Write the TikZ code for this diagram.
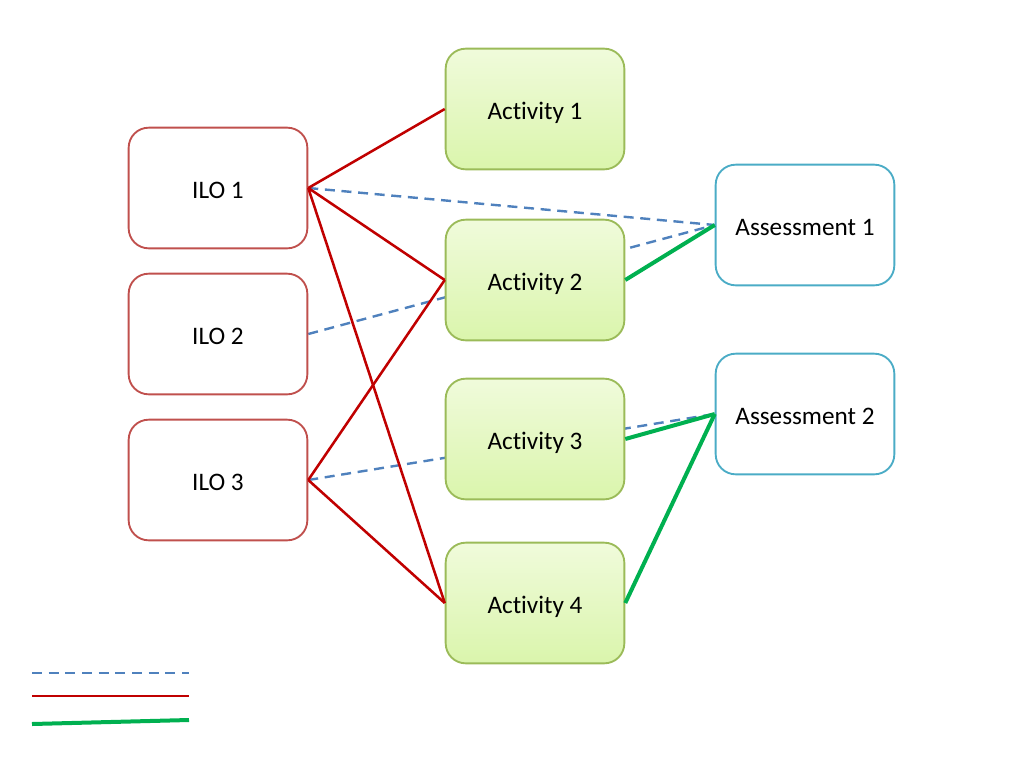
\documentclass[tikz,border=0pt]{standalone}
\usepackage{fontspec}
\setmainfont{Carlito}[RawFeature=-liga]
\usetikzlibrary{backgrounds}
\definecolor{ilored}{RGB}{192,80,77}
\definecolor{actgreen}{RGB}{155,187,89}
\definecolor{acttop}{RGB}{240,251,219}
\definecolor{actbottom}{RGB}{218,245,172}
\definecolor{asscyan}{RGB}{75,172,198}
\definecolor{linkred}{RGB}{192,0,0}
\definecolor{linkblue}{RGB}{79,129,189}
\definecolor{linkgreen}{RGB}{0,176,80}
\begin{document}
\begin{tikzpicture}[x=0.75pt, y=-0.75pt,
    box/.style={rounded corners=15pt, line width=1.4pt, minimum width=134pt, minimum height=90.5pt,
                inner sep=0pt, align=center, text height=15.5pt, text depth=0.5pt,
                font=\fontsize{18.9}{22}\selectfont},
    ilobox/.style={box, draw=ilored, fill=white},
    actbox/.style={box, draw=actgreen, top color=acttop, bottom color=actbottom},
    assbox/.style={box, draw=asscyan, fill=white},
    covers/.style={draw=linkred, line width=1.9pt},
    assesses/.style={draw=linkblue, line width=1.8pt, dash pattern=on 7.5pt off 5pt},
    aligns/.style={draw=linkgreen, line width=3pt}]
  \useasboundingbox (0,0) rectangle (1024,768);

  \node[ilobox] (ilo1) at (218,188) {ILO 1};
  \node[ilobox] (ilo2) at (218,334) {ILO 2};
  \node[ilobox] (ilo3) at (218,480) {ILO 3};

  \node[actbox] (act1) at (535,109) {Activity 1};
  \node[actbox] (act2) at (535,280) {Activity 2};
  \node[actbox] (act3) at (535,439) {Activity 3};
  \node[actbox] (act4) at (535,603) {Activity 4};

  \node[assbox] (ass1) at (805,225) {Assessment 1};
  \node[assbox] (ass2) at (805,414) {Assessment 2};

  \begin{pgfonlayer}{background}
    \draw[assesses] (ilo1.east) -- (ass1.west);
    \draw[assesses] (ilo2.east) -- (ass1.west);
    \draw[assesses] (ilo3.east) -- (ass2.west);
  \end{pgfonlayer}

  \draw[covers] (ilo1.east) -- (act1.west);
  \draw[covers] (ilo1.east) -- (act2.west);
  \draw[covers] (ilo1.east) -- (act4.west);
  \draw[covers] (ilo3.east) -- (act2.west);
  \draw[covers] (ilo3.east) -- (act4.west);

  \draw[aligns] (act2.east) -- (ass1.west);
  \draw[aligns] (act3.east) -- (ass2.west);
  \draw[aligns] (act4.east) -- (ass2.west);

  \coordinate (key1a) at (32,673);  \coordinate (key1b) at (189,673);
  \coordinate (key2a) at (32,696);  \coordinate (key2b) at (189,696);
  \coordinate (key3a) at (32,724);  \coordinate (key3b) at (189,720);
  \draw[assesses] (key1a) -- (key1b);
  \draw[covers] (key2a) -- (key2b);
  \draw[aligns] (key3a) -- (key3b);
\end{tikzpicture}
\end{document}
